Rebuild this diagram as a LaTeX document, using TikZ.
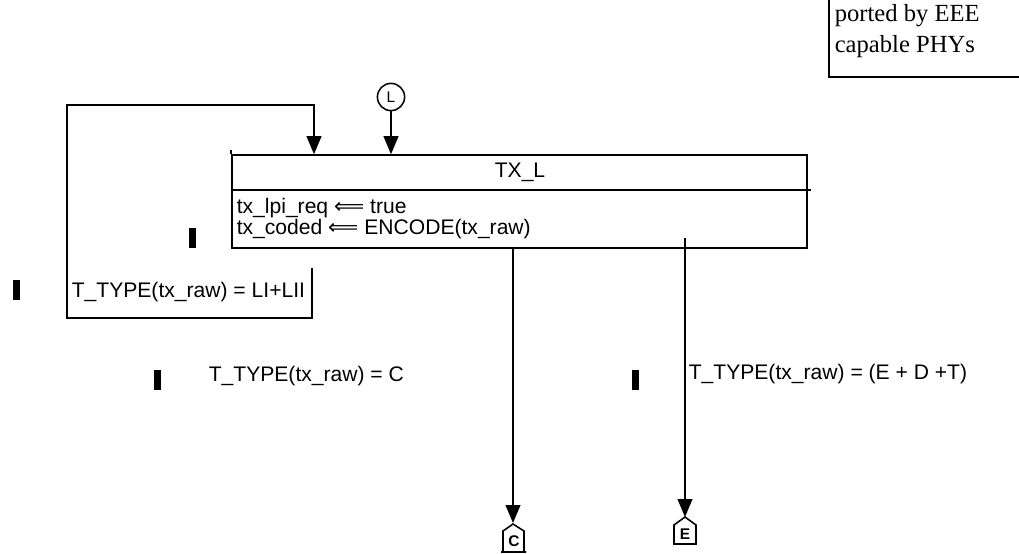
\documentclass[tikz,border=0pt]{standalone}
\usepackage{fontspec}
\setmainfont{Liberation Serif}
\setsansfont{Liberation Sans}
\newfontfamily\arrowfont{DejaVu Sans}
\usetikzlibrary{arrows.meta}
\begin{document}
\begin{tikzpicture}[x=0.025cm, y=-0.025cm, line width=1.1pt,
  >={Triangle[length=0.45cm, width=0.37cm]},
  font=\sffamily\fontsize{15}{13.5}\selectfont,
  lbl/.style={inner sep=0pt, anchor=west, align=left},
  bar/.style={fill=black, draw=none},
  conn/.style={inner sep=0pt, font=\sffamily\bfseries\fontsize{11}{11}\selectfont}]
  \useasboundingbox (0,0) rectangle (1019,553);
  % note (cut off at the top right)
  \node[lbl, font=\rmfamily\fontsize{17.5}{21.5}\selectfont] (note) at (834,31) {ported by EEE\\capable PHYs};
  \draw (829,0) |- (1019,77);
  % state TX_L
  \node[draw, minimum width=14.375cm, minimum height=2.325cm, inner sep=0pt] (txl) at (519.5,201.5) {};
  \draw (txl.west |- 0,190) -- ([xshift=2pt]txl.east |- 0,190);
  \draw (txl.north west) -- ++(0,-4);
  \node (ttl) at (520,172) {TX\_L};
  \node[lbl] (act) at (236,219) {tx\_lpi\_req {\arrowfont ⟸} true\\tx\_coded {\arrowfont ⟸} ENCODE(tx\_raw)};
  % entry L
  \node[draw, circle, minimum size=0.68cm, inner sep=0pt, conn, font=\sffamily\fontsize{11}{11}\selectfont] (lent) at (391,97) {L};
  \draw[->] (lent) -- (lent |- txl.north);
  % loop back to TX_L
  \coordinate (lpout) at (312,268);
  \draw[->] (lpout) -- (312,318) -- (67,318) -- (67,105) -- (314,105) -- (314,105 |- txl.north);
  \node[lbl] (lpc) at (71,292) {T\_TYPE(tx\_raw) = LI+LII};
  % off-page connectors
  \node[conn] (coff) at (514,541) {C};
  \draw (coff.center) ++(-11,11) -- ++(0,-21) -- ++(10,-7) -- ++(11,7) -- ++(0,21) ++(2,0) -- ++(-25,0);
  \coordinate (cpk) at (513,523);
  \node[conn] (eoff) at (685,534) {E};
  \draw (eoff.center) ++(-11,10) -- ++(0,-19) -- ++(11,-8) -- ++(11,8) -- ++(0,19) -- cycle;
  \coordinate (epk) at (685,517);
  % exits
  \draw[->] (cpk |- txl.south) -- (cpk);
  \node[lbl] (cc) at (208,376) {T\_TYPE(tx\_raw) = C};
  \coordinate (eout) at (685,238);
  \draw[->] (eout) -- (epk);
  \node[lbl] (ec) at (688,374) {T\_TYPE(tx\_raw) = (E + D +T)};
  % markers
  \fill[bar] (13,280) rectangle (20,300);
  \fill[bar] (189,228) rectangle (196,248);
  \fill[bar] (154,370) rectangle (161,390);
  \fill[bar] (632,370) rectangle (639,390);
\end{tikzpicture}
\end{document}
